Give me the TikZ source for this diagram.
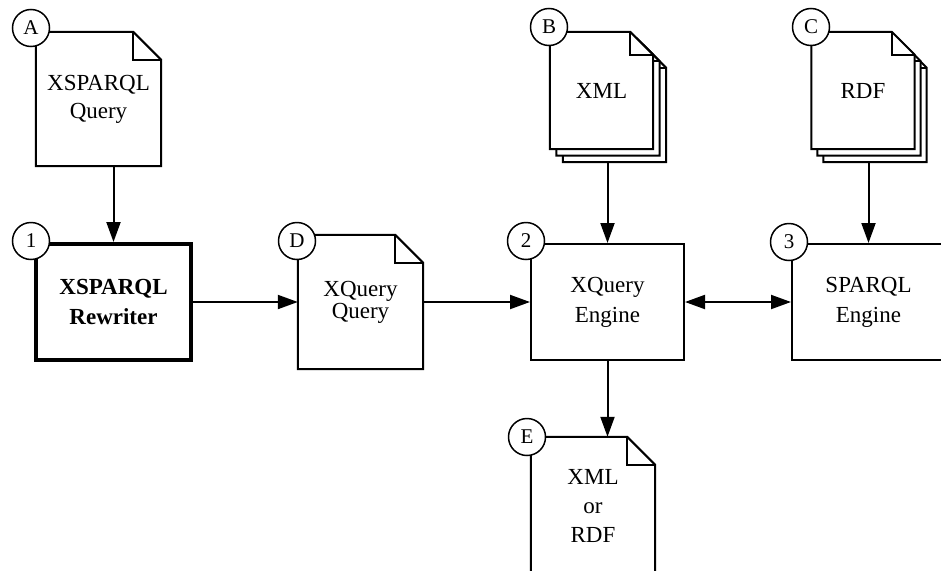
\documentclass[tikz,border=0pt]{standalone}
\usepackage{fontspec}
\setmainfont{Liberation Serif}
\usetikzlibrary{arrows.meta,backgrounds}
\tikzset{
  lw/.style={line width=2pt},
  docnode/.style={inner sep=0pt, align=center, font=\fontsize{23}{28}\selectfont, minimum width=125pt, minimum height=134pt},
  stacknode/.style={inner sep=0pt, align=center, font=\fontsize{23}{28}\selectfont, minimum width=103pt, minimum height=117pt},
  boxnode/.style={draw, line width=2pt, fill=white, inner sep=0pt, align=center, font=\fontsize{23}{30}\selectfont, minimum width=153pt, minimum height=116pt},
  circ/.style={circle, draw, line width=1.5pt, fill=white, minimum size=37pt, inner sep=0pt, font=\fontsize{21}{21}\selectfont},
  arr/.style={line width=2pt, -{Triangle[length=20pt,width=14pt]}},
  darr/.style={line width=2pt, {Triangle[length=20pt,width=14pt]}-{Triangle[length=20pt,width=14pt]}},
}
\newcommand{\docoutline}[2]{%
  \draw[lw, fill=white] (#1.north west) -- ([xshift=-#2]#1.north east) -- ([yshift=-#2]#1.north east) -- (#1.south east) -- (#1.south west) -- cycle;
  \draw[lw] ([xshift=-#2]#1.north east) -- ([xshift=-#2,yshift=-#2]#1.north east) -- ([yshift=-#2]#1.north east);}
\begin{document}
\begin{tikzpicture}[x=1pt,y=-1pt]
\useasboundingbox (0,0) rectangle (941,570);
% documents
\node[docnode] (A) at (98.5,99) {XSPARQL\\Query};
\node[docnode, font=\fontsize{23}{22}\selectfont] (D) at (360.5,302) {XQuery\\Query};
\node[docnode, minimum width=124pt, minimum height=138pt, font=\fontsize{23}{29}\selectfont] (E) at (593,506) {XML\\or\\RDF};
\node[stacknode] (B3) at (614.5,103.5) {};
\node[stacknode] (B2) at (608,97) {};
\node[stacknode] (B) at (601.5,90.5) {XML};
\node[stacknode] (C3) at (875,103.5) {};
\node[stacknode] (C2) at (869,97) {};
\node[stacknode] (C) at (863,90.5) {RDF};
\begin{pgfonlayer}{background}
  \fill[white] (0,0) rectangle (941,570);
  \docoutline{A}{28pt}
  \docoutline{D}{28pt}
  \docoutline{E}{28pt}
  \docoutline{B3}{23pt}
  \docoutline{B2}{23pt}
  \docoutline{B}{23pt}
  \docoutline{C3}{23pt}
  \docoutline{C2}{23pt}
  \docoutline{C}{23pt}
\end{pgfonlayer}
% boxes
\node[boxnode, line width=4pt, minimum width=155pt, font=\fontsize{23}{30}\selectfont\bfseries] (R) at (113.5,302) {XSPARQL\\Rewriter};
\node[boxnode] (X) at (607.5,302) {XQuery\\Engine};
\node[boxnode] (S) at (868.5,302) {SPARQL\\Engine};
% connectors
\draw[arr] (R.north |- A.south) -- (R.north);
\draw[arr] (R.east) -- (D.west);
\draw[arr] (D.east) -- (X.west);
\draw[darr] (X.east) -- (S.west);
\draw[arr] (X.north |- B3.south) -- (X.north);
\draw[arr] (S.north |- C3.south) -- (S.north);
\draw[arr] (X.south) -- (X.south |- E.north);
% markers
\node[circ] (mA) at (31,28) {A};
\node[circ] (m1) at (31,241) {1};
\node[circ] (mD) at (297,241) {D};
\node[circ] (m2) at (526,241) {2};
\node[circ] (m3) at (789,242) {3};
\node[circ] (mB) at (549,27) {B};
\node[circ] (mC) at (811,27) {C};
\node[circ] (mE) at (527,437) {E};
\end{tikzpicture}
\end{document}
